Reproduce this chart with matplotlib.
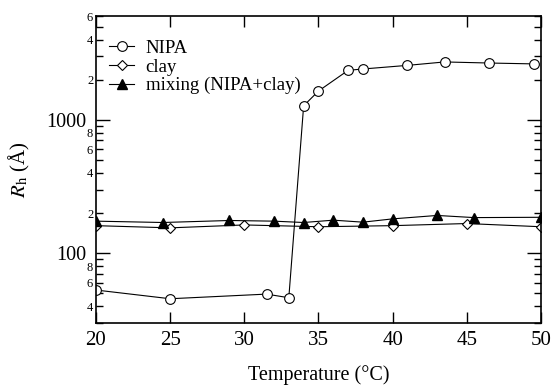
import matplotlib
matplotlib.use("Agg")
import matplotlib.pyplot as plt
from matplotlib.ticker import LogLocator, FuncFormatter, FixedLocator
import numpy as np

plt.rcParams['font.family'] = ['Liberation Serif', 'DejaVu Serif']
plt.rcParams['mathtext.fontset'] = 'stix'

# NIPA alone
nipa_t = [20, 25, 31.5, 33, 34, 35, 37, 38, 41, 43.5, 46.5, 49.5]
nipa_r = [53, 45.6, 49.4, 46.4, 1274, 1644, 2350, 2405, 2560, 2716, 2666, 2626]

# clay alone
clay_t = [20, 25, 30, 35, 40, 45, 50]
clay_r = [161, 155, 163, 158, 161, 167, 158]

# mixture
mix_t = [20, 24.5, 29, 32, 34, 36, 38, 40, 43, 45.5, 50]
mix_r = [174, 170, 176, 174, 170, 177, 171, 181, 192, 185, 186]

fig = plt.figure(figsize=(5.52, 3.86), dpi=100)
ax = fig.add_axes([0.1739, 0.1632, 0.8061, 0.7953])

ax.plot(nipa_t, nipa_r, "k-", lw=0.8, marker="o", ms=7, mfc="white", mec="black", mew=0.8, label="NIPA")
ax.plot(clay_t, clay_r, "k-", lw=0.8, marker="D", ms=5.5, mfc="white", mec="black", mew=0.8, label="clay")
ax.plot(mix_t, mix_r, "k-", lw=0.8, marker="^", ms=7, mfc="black", mec="black", label="mixing (NIPA+clay)")

ax.set_yscale("log")
ax.set_xlim(20, 50)
ax.set_ylim(30, 6000)
ax.set_xticks([20, 25, 30, 35, 40, 45, 50])

ax.yaxis.set_major_locator(FixedLocator([100, 1000]))
ax.yaxis.set_minor_locator(LogLocator(base=10, subs=np.arange(2, 10)))

def minor_fmt(v, pos):
    d = int(round(v / 10 ** np.floor(np.log10(v))))
    return str(d) if d in (2, 4, 6, 8) else ""

ax.yaxis.set_minor_formatter(FuncFormatter(minor_fmt))
ax.yaxis.set_major_formatter(FuncFormatter(lambda v, p: str(int(v))))

ax.tick_params(which="both", direction="in", top=True, right=True, width=1)
ax.tick_params(axis="x", which="major", length=8, labelsize=15, pad=6)
ax.tick_params(axis="y", which="major", length=10, labelsize=14.5, pad=7)
ax.tick_params(axis="y", which="minor", length=5, labelsize=9, pad=2)
ax.tick_params(axis="x", which="minor", bottom=False, top=False)

for s in ax.spines.values():
    s.set_linewidth(1.2)

ax.set_xlabel("Temperature (°C)", fontsize=14.5)
ax.xaxis.label.set_va("baseline")
ax.xaxis.set_label_coords(0.5, -0.187)
ax.set_ylabel(r"$R_\mathrm{h}$ (Å)", fontsize=15)
ax.yaxis.set_label_coords(-0.143, 0.5)

ax.legend(loc="upper left", frameon=False, fontsize=13.5, handlelength=1.35,
          handletextpad=0.6, labelspacing=0.08, borderaxespad=0.3,
          bbox_to_anchor=(0.0, 0.965))

fig.savefig("out.png", dpi=100)
